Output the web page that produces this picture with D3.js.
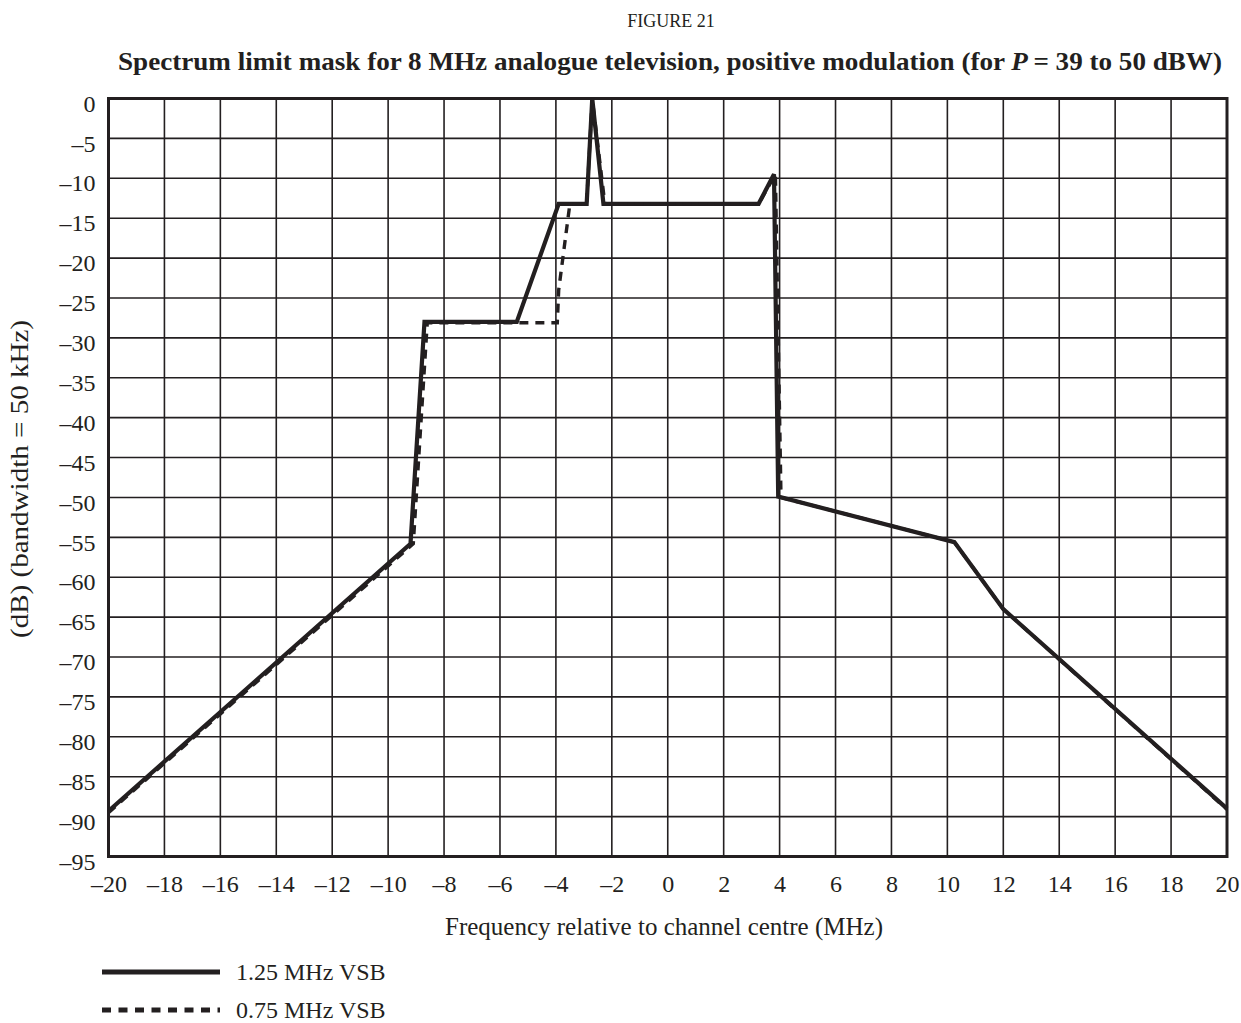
<!DOCTYPE html>
<html>
<head>
<meta charset="utf-8">
<script src="https://cdn.jsdelivr.net/npm/d3@7"></script>
<style>
  body { margin: 0; background: #fff; }
  text { font-family: "Liberation Serif", "Times New Roman", serif; fill: #231f20; }
</style>
</head>
<body>
<div class="canvas"></div>
<script>
// 1.25 MHz VSB (solid)
const solidFreq = [-20, -9.2, -8.7, -5.4, -3.9, -2.9, -2.7, -2.3, 3.25, 3.8, 3.95, 10.25, 12, 20]
const solidLevel = [-89.3, -55.8, -28, -28, -13.2, -13.2, 0, -13.2, -13.2, -9.5, -49.9, -55.6, -64, -89]
// 0.75 MHz VSB (dashed)
const dashFreq = [-20, -9.1, -8.6, -3.95, -3.9, -3.5, -2.9, -2.7, -2.25, 3.25, 3.85, 4.05, 10.25, 12, 20]
const dashLevel = [-89.5, -55.8, -28.1, -28.1, -24, -13.2, -13.2, 0, -13.2, -13.2, -9.5, -50, -55.6, -64, -89.1]

const xTicks = d3.range(-20, 21, 2)
const yTicks = d3.range(0, -96, -5)
const seriesNames = ['1.25 MHz VSB', '0.75 MHz VSB']

const width = 1241
const height = 1023
const margin = { top: 98.5, right: 14, bottom: 166.5, left: 108.5 }
const graphWidth = width - margin.left - margin.right
const graphHeight = height - margin.top - margin.bottom

const ink = '#231f20'
const fmt = v => (v < 0 ? '\u2013' + Math.abs(v) : String(v))

const svg = d3.select('.canvas').append('svg')
  .attr('width', width)
  .attr('height', height)

// titles
svg.append('text')
  .attr('x', 671).attr('y', 27)
  .attr('text-anchor', 'middle')
  .attr('font-size', 18)
  .text('FIGURE 21')

const sub = svg.append('text')
  .attr('x', 670).attr('y', 70)
  .attr('text-anchor', 'middle')
  .attr('font-size', 25)
  .attr('font-weight', 'bold')
  .attr('textLength', 1104)
  .attr('lengthAdjust', 'spacingAndGlyphs')
sub.append('tspan').text('Spectrum limit mask for 8 MHz analogue television, positive modulation (for ')
sub.append('tspan').attr('font-style', 'italic').text('P')
sub.append('tspan').text('\u2009= 39 to 50 dBW)')

const graph = svg.append('g')
  .attr('transform', `translate(${margin.left}, ${margin.top})`)

const x = d3.scaleLinear().domain([-20, 20]).range([0, graphWidth])
const y = d3.scaleLinear().domain([-95, 0]).range([graphHeight, 0])

// grid
graph.append('g').selectAll('line')
  .data(xTicks)
  .enter().append('line')
  .attr('x1', d => x(d)).attr('x2', d => x(d))
  .attr('y1', 0).attr('y2', graphHeight)
  .attr('stroke', ink).attr('stroke-width', 1.6)

graph.append('g').selectAll('line')
  .data(yTicks)
  .enter().append('line')
  .attr('x1', 0).attr('x2', graphWidth)
  .attr('y1', d => y(d)).attr('y2', d => y(d))
  .attr('stroke', ink).attr('stroke-width', 1.6)

// axes (labels only, frame drawn separately)
const xAxis = d3.axisBottom(x).tickValues(xTicks).tickFormat(fmt).tickSize(0).tickPadding(18)
const yAxis = d3.axisLeft(y).tickValues(yTicks).tickFormat(fmt).tickSize(0).tickPadding(13)

const xAxisGroup = graph.append('g')
  .attr('transform', `translate(0,${graphHeight})`)
  .call(xAxis)
const yAxisGroup = graph.append('g')
  .attr('transform', 'translate(0,5)')
  .call(yAxis)

;[xAxisGroup, yAxisGroup].forEach(g => {
  g.select('.domain').remove()
  g.selectAll('text')
    .attr('font-family', '"Liberation Serif", "Times New Roman", serif')
    .attr('font-size', 24)
    .attr('fill', ink)
})

// frame
graph.append('rect')
  .attr('width', graphWidth).attr('height', graphHeight)
  .attr('fill', 'none').attr('stroke', ink).attr('stroke-width', 3)

// lines
const line = d3.line().x(d => x(d[0])).y(d => y(d[1]))
const solidData = solidFreq.map((f, i) => [f, solidLevel[i]])
const dashData = dashFreq.map((f, i) => [f, dashLevel[i]])

graph.append('path')
  .datum(solidData)
  .attr('d', line)
  .attr('fill', 'none').attr('stroke', ink).attr('stroke-width', 4.2)

graph.append('path')
  .datum(dashData)
  .attr('d', line)
  .attr('fill', 'none').attr('stroke', ink).attr('stroke-width', 3.4)
  .attr('stroke-dasharray', '9,7')

// axis titles
svg.append('text')
  .attr('x', 664).attr('y', 935)
  .attr('text-anchor', 'middle')
  .attr('font-size', 25)
  .text('Frequency relative to channel centre (MHz)')

svg.append('text')
  .attr('transform', 'translate(28, 479) rotate(-90)')
  .attr('text-anchor', 'middle')
  .attr('font-size', 26)
  .attr('textLength', 318)
  .attr('lengthAdjust', 'spacingAndGlyphs')
  .text('(dB) (bandwidth = 50 kHz)')

// legend
const legend = svg.append('g')
seriesNames.forEach((name, i) => {
  const ly = 972 + i * 38
  legend.append('line')
    .attr('x1', 102).attr('x2', 220)
    .attr('y1', ly).attr('y2', ly)
    .attr('stroke', ink).attr('stroke-width', 5)
    .attr('stroke-dasharray', i === 1 ? '9,7.5' : null)
  legend.append('text')
    .attr('x', 236).attr('y', ly + 8)
    .attr('font-size', 24)
    .text(name)
})
</script>
</body>
</html>
